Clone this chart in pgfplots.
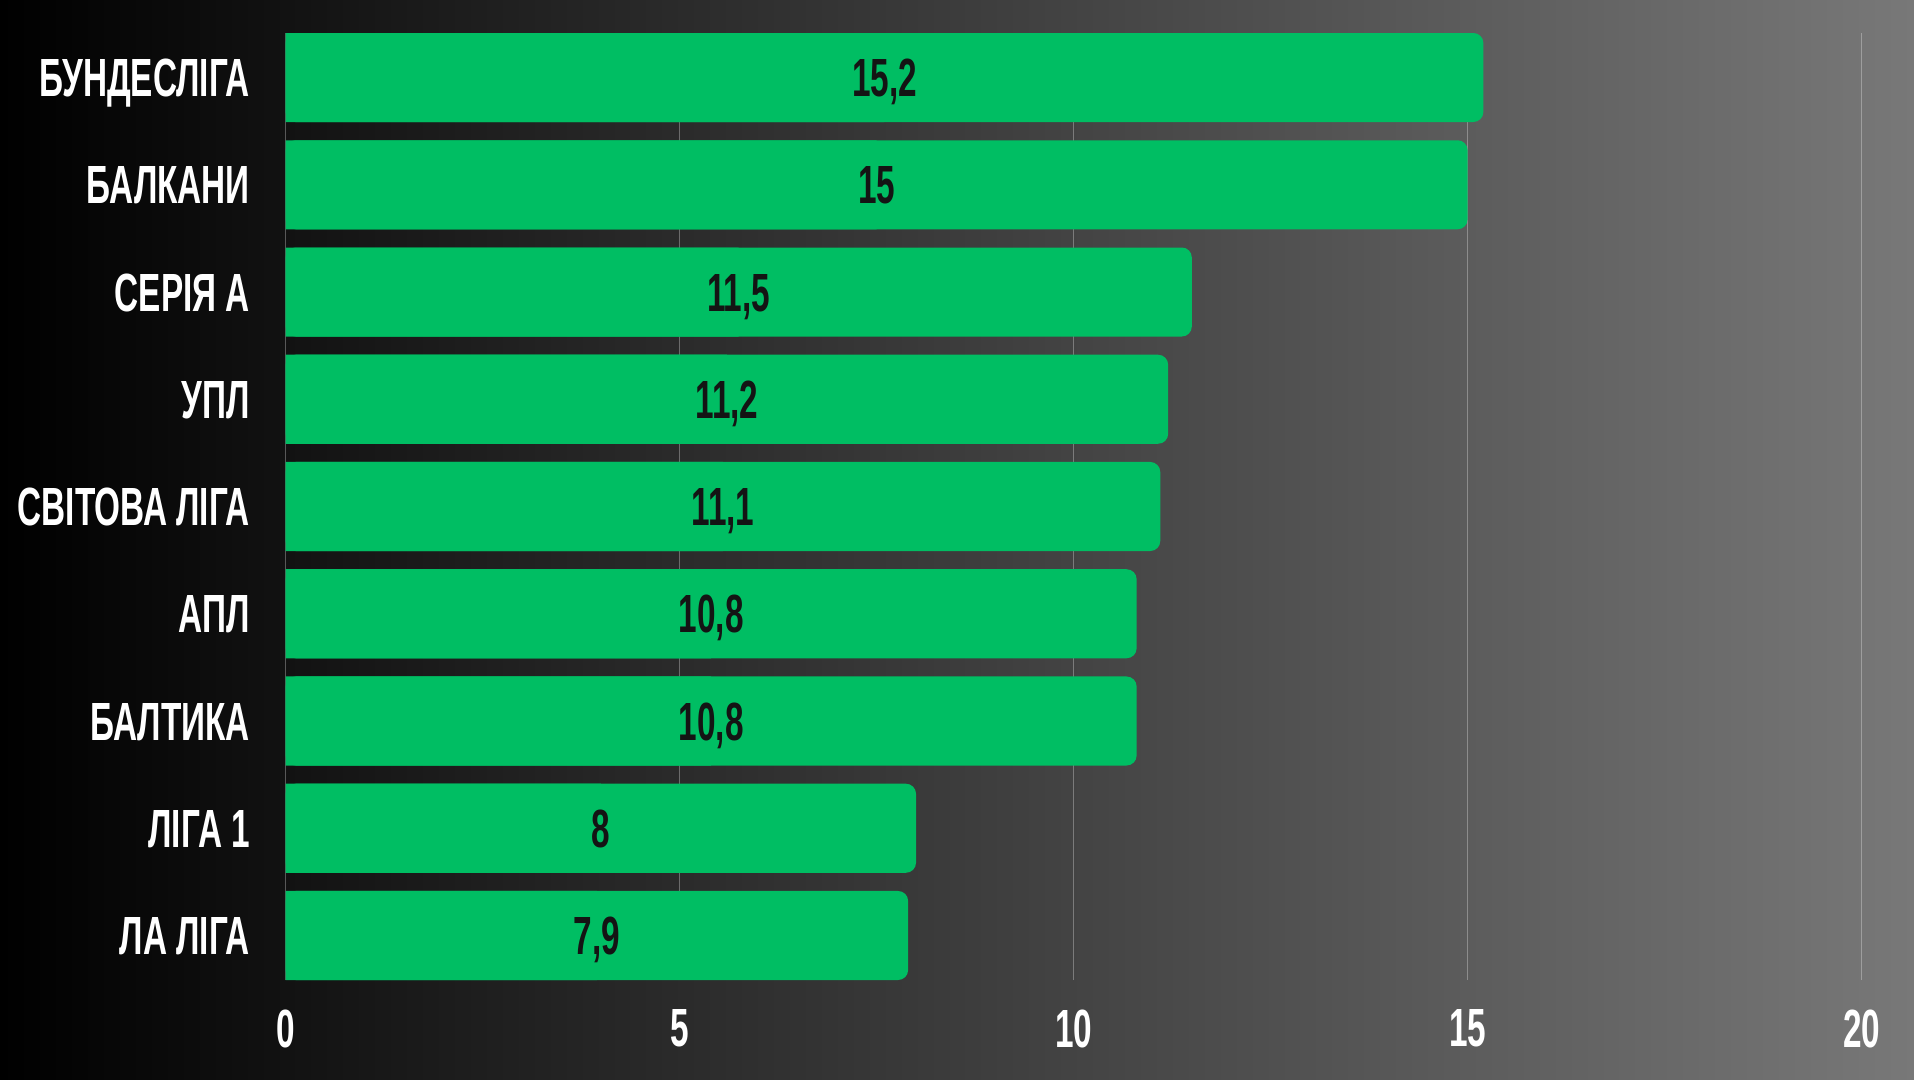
\documentclass[border=0pt]{standalone}
\usepackage{pgfplots}
\pgfplotsset{compat=1.18}
\usepackage{pgfplotstable}
\usepackage{fontspec}
\setmainfont[FakeStretch=0.62]{Liberation Sans}
\definecolor{barg}{RGB}{0,190,99}
\definecolor{bgr}{RGB}{120,120,120}
\pgfplotstableread{
y v lab
1 15.2 15,2
2 15 15
3 11.5 11,5
4 11.2 11,2
5 11.1 11,1
6 10.8 10,8
7 10.8 10,8
8 8 8
9 7.9 7,9
}\data
\begin{document}
\begin{tikzpicture}
\shade[left color=black, right color=bgr] (0,0) rectangle (191.4mm,108mm);
\begin{axis}[at={(28.56mm,10mm)}, anchor=south west, scale only axis,
  width=157.6mm, height=94.7mm,
  xmin=0, xmax=20, ymin=0.585, ymax=9.415, y dir=reverse,
  axis line style={draw=none}, major tick length=0, tick style={draw=none},
  xtick={0,5,10,15,20}, ytick={1,...,9},
  yticklabels={БУНДЕСЛІГА,БАЛКАНИ,СЕРІЯ А,УПЛ,СВІТОВА ЛІГА,АПЛ,БАЛТИКА,ЛІГА 1,ЛА ЛІГА},
  xmajorgrids, grid style={white, opacity=0.3, line width=0.15mm},
  ticklabel style={font=\fontsize{15.3pt}{18pt}\selectfont\bfseries, text=white},
  xticklabel style={anchor=north, inner sep=0pt, yshift=-2.9mm},
  yticklabel style={anchor=base east, inner sep=0pt, xshift=-3.5mm, yshift=-1.9mm},
  /pgf/number format/assume math mode=true,
]
\addplot[xbar, bar shift=0pt, bar width=0.83, fill=barg, draw=none, rounded corners=1mm] table[x=v, y=y]{\data};
\addplot[xbar, bar shift=0pt, bar width=0.83, fill=barg, draw=none] table[x expr=\thisrow{v}/2, y=y]{\data};
\addplot[draw=none, mark=none, nodes near coords, point meta=explicit symbolic,
  every node near coord/.append style={anchor=base, inner sep=0pt, yshift=-1.9mm, text=black!92,
    font=\fontsize{15.3pt}{18pt}\selectfont\bfseries}]
  table[x expr=\thisrow{v}/2, y=y, meta=lab]{\data};
\end{axis}
\end{tikzpicture}
\end{document}
